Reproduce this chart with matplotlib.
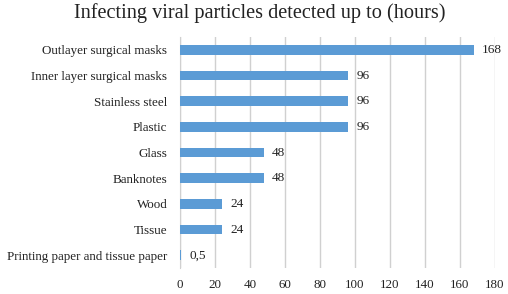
import numpy as np
import matplotlib.pyplot as plt

plt.rcParams['font.family'] = ['Liberation Serif', 'DejaVu Serif']

# data, top to bottom as in the chart
surfaces = ["Outlayer surgical masks", "Inner layer surgical masks", "Stainless steel",
            "Plastic", "Glass", "Banknotes", "Wood", "Tissue",
            "Printing paper and tissue paper"]
hours = [168, 96, 96, 96, 48, 48, 24, 24, 0.5]
hour_labels = ["168", "96", "96", "96", "48", "48", "24", "24", "0,5"]

fig = plt.figure(figsize=(5.08, 2.94), dpi=100)
ax = fig.add_axes([0.354, 0.088, 0.62, 0.786])

y = np.arange(len(surfaces))[::-1]
ax.barh(y, hours, height=0.38, color="#5B9BD5", zorder=3)
for yi, v, lab in zip(y, hours, hour_labels):
    ax.text(v + 4.8, yi, lab, va="center", ha="left", fontsize=9.5, color="#222222")

ax.set_xlim(0, 180)
ax.set_ylim(-0.5, len(surfaces) - 0.5)
ax.set_xticks(np.arange(0, 181, 20))
ax.set_yticks(y)
ax.set_yticklabels(surfaces)
ax.tick_params(axis="both", length=0, labelsize=9.4, colors="#222222")
ax.tick_params(axis="y", pad=9)
ax.tick_params(axis="x", pad=8)
ax.grid(axis="x", color="#d0d0d0", linewidth=1, zorder=0)
for s in ["top", "right", "bottom"]:
    ax.spines[s].set_visible(False)
ax.spines["left"].set_color("#d0d0d0")

fig.suptitle("Infecting viral particles detected up to (hours)", x=0.512, y=0.99,
             fontsize=14.6, va="top", color="#222222")

fig.savefig("out.png", dpi=100)
